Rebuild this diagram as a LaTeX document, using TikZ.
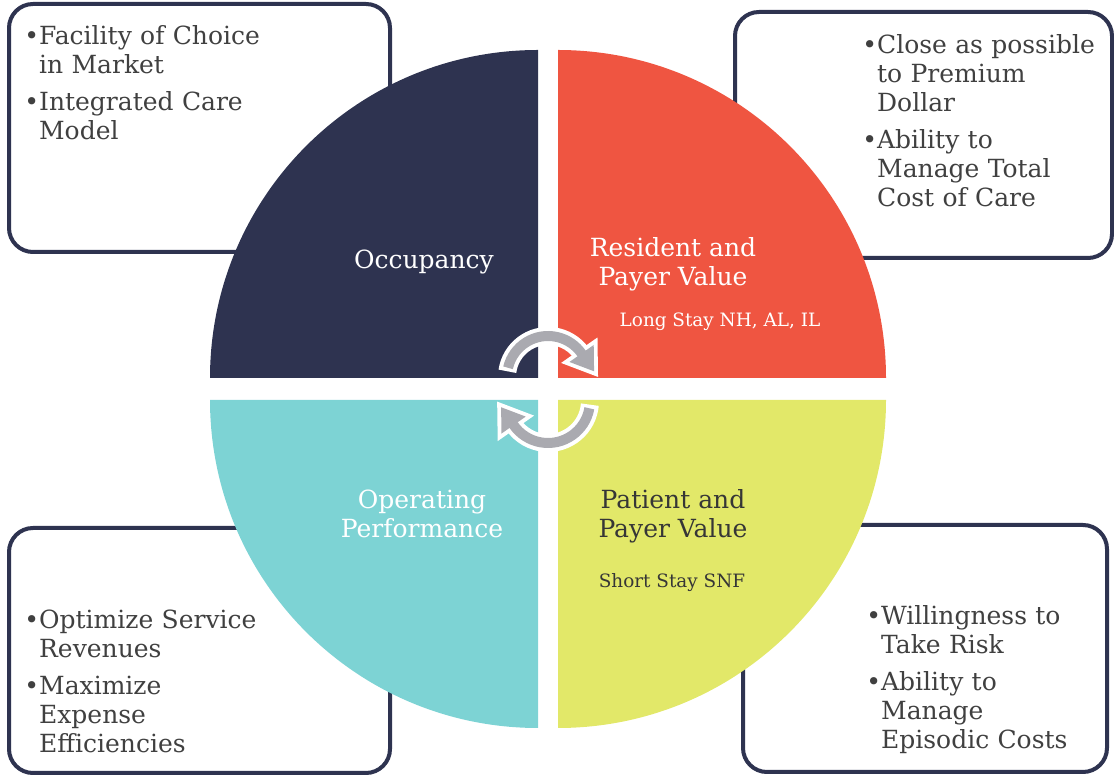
\documentclass[tikz,border=0pt]{standalone}
\usepackage{fontspec}
\setmainfont{DejaVu Serif}
\usetikzlibrary{arrows.meta,positioning}

\definecolor{occnavy}{HTML}{2E3350}
\definecolor{resred}{HTML}{EF5541}
\definecolor{opteal}{HTML}{7DD3D4}
\definecolor{patyellow}{HTML}{E2E869}
\definecolor{notegray}{HTML}{404040}
\definecolor{cycgray}{HTML}{AAAAB0}

% bullet followed by a block of lines
\newcommand{\bitem}[1]{\par\noindent\textbullet\begin{tabular}[t]{@{}l@{}}#1\end{tabular}}

\tikzset{
  notebox/.style={draw=occnavy,fill=white,line width=2pt,rounded corners=12pt},
  notes/.style={anchor=north west,inner sep=0pt,text width=200pt,text=notegray,
    font=\fontsize{12.5}{14.5}\selectfont\setlength{\parskip}{3pt}},
  qlabel/.style={anchor=base,align=center,inner sep=0pt,font=\fontsize{12.5}{14.5}\selectfont},
  qsmall/.style={anchor=base,inner sep=0pt,font=\fontsize{9.2}{11}\selectfont},
  cycback/.style={white,line width=9pt,-{Triangle[length=16.5pt,width=21pt]}},
  cycfront/.style={cycgray,line width=5pt,-{Triangle[length=11pt,width=14pt]}}
}

\begin{document}
\begin{tikzpicture}[x=0.5pt,y=0.5pt]
  \useasboundingbox (0,0) rectangle (1114,776);

  % boxes sit behind the wheel
  \draw[notebox] (9,524) rectangle (390,772);
  \draw[notebox] (735,518) rectangle (1112,764);
  \draw[notebox] (9,3) rectangle (390,248);
  \draw[notebox] (743,4) rectangle (1107,251);

  % the four quarters
  \fill[occnavy] (538,398) -- (210,398) arc[start angle=180,end angle=90,radius=328] -- cycle;
  \fill[resred] (558,398) -- (558,726) arc[start angle=90,end angle=0,radius=328] -- cycle;
  \fill[opteal] (538,376) -- (538,48) arc[start angle=270,end angle=180,radius=328] -- cycle;
  \fill[patyellow] (558,376) -- (886,376) arc[start angle=0,end angle=-90,radius=328] -- cycle;

  % turning arrows in the middle
  \coordinate (ctop) at (548,399);
  \coordinate (cbot) at (548,375);
  \draw[cycback] (ctop) ++(172:41) arc[start angle=172,end angle=35,radius=41] -- ++(-55:29);
  \draw[cycfront] (ctop) ++(167:41) arc[start angle=167,end angle=35,radius=41] -- ++(-55:22);
  \draw[cycback] (cbot) ++(-5:42) arc[start angle=-5,end angle=-145,radius=42] -- ++(125:29);
  \draw[cycfront] (cbot) ++(-10:42) arc[start angle=-10,end angle=-145,radius=42] -- ++(125:22);

  % quarter labels (base = last line)
  \node[qlabel,text=white] (occ) at (424,507) {Occupancy};
  \node[qlabel,text=white] (resval) at (673,490) {Resident and\\Payer Value};
  \node[qsmall,text=white] (longstay) at (720,449) {Long Stay NH, AL, IL};
  \node[qlabel,text=white] (oper) at (422,238) {Operating\\Performance};
  \node[qlabel,text=notegray!85!black] (patval) at (673,238) {Patient and\\Payer Value};
  \node[qsmall,text=notegray!85!black] (shortstay) at (672,188) {Short Stay SNF};

  % box texts
  \node[notes] (occnotes) at (24,767) {\bitem{Facility of Choice\\in Market}\bitem{Integrated Care\\Model}};
  \node[notes] (resnotes) at (862,758) {\bitem{Close as possible\\to Premium\\Dollar}\bitem{Ability to\\Manage Total\\Cost of Care}};
  \node[notes] (opnotes) at (24,183) {\bitem{Optimize Service\\Revenues}\bitem{Maximize\\Expense\\Efficiencies}};
  \node[notes] (patnotes) at (866,187) {\bitem{Willingness to\\Take Risk}\bitem{Ability to\\Manage\\Episodic Costs}};
\end{tikzpicture}
\end{document}
